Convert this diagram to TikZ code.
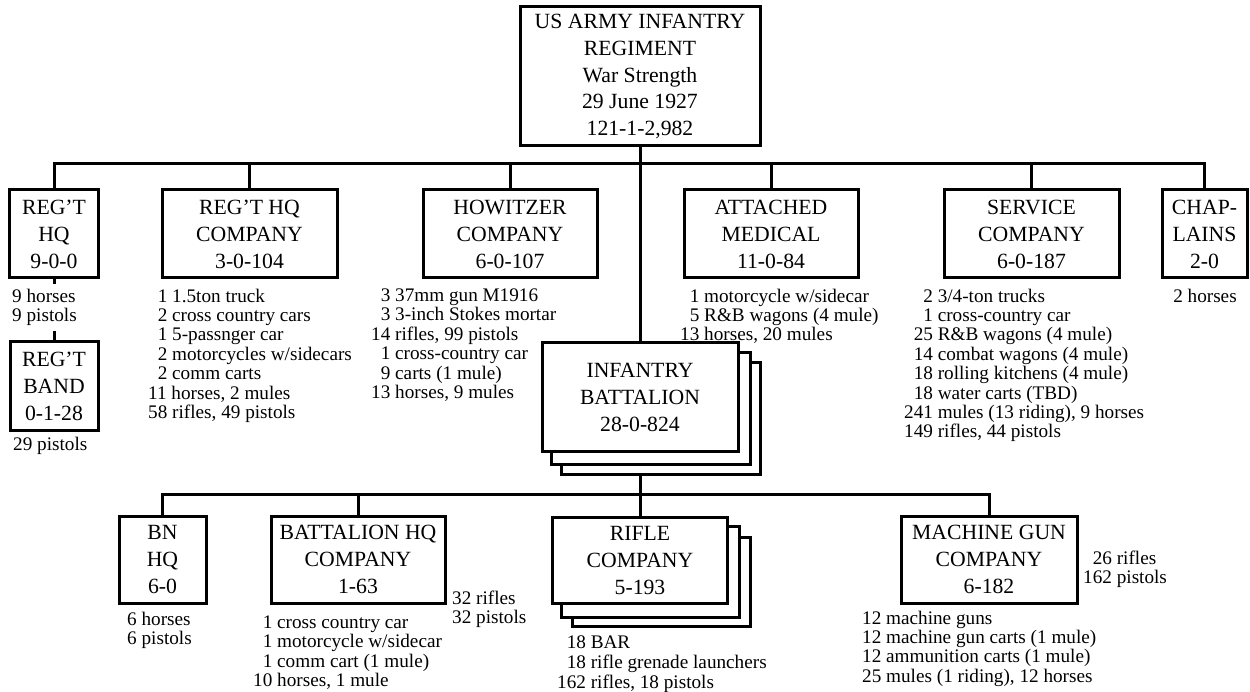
\documentclass[tikz,border=0pt]{standalone}
\usepackage{fontspec}
\setmainfont{Liberation Serif}
\usetikzlibrary{backgrounds,calc}
\begin{document}
\begin{tikzpicture}[x=1pt,y=-1pt,
  box/.style={draw, line width=3pt, fill=white, inner sep=0pt, align=center, font=\fontsize{21.7}{27}\selectfont},
  lst/.style={inner sep=0pt, align=left, anchor=north west, font=\fontsize{19.2}{19.4}\selectfont},
  conn/.style={line width=3pt},
  shadowbox/.style={draw, line width=3pt, fill=white}]
\useasboundingbox (0,0) rectangle (1250,692);

% ---- boxes ----
\node[box, minimum width=240pt, minimum height=139pt, font=\fontsize{21.7}{26.6}\selectfont] (top) at (640,76.5)
  {US ARMY INFANTRY\\REGIMENT\\War Strength\\29 June 1927\\121-1-2,982};

\node[box, minimum width=89pt, minimum height=88pt] (reghq) at (54,234) {REG’T\\HQ\\9-0-0};
\node[box, minimum width=175pt, minimum height=88pt] (reghqco) at (249.5,234) {REG’T HQ\\COMPANY\\3-0-104};
\node[box, minimum width=174pt, minimum height=88pt] (how) at (510,234) {HOWITZER\\COMPANY\\6-0-107};
\node[box, minimum width=174pt, minimum height=88pt] (med) at (771,234) {ATTACHED\\MEDICAL\\11-0-84};
\node[box, minimum width=175pt, minimum height=88pt] (svc) at (1031.5,234) {SERVICE\\COMPANY\\6-0-187};
\node[box, minimum width=85pt, minimum height=88pt] (chap) at (1204.5,234) {CHAP-\\LAINS\\2-0};

\node[box, minimum width=88pt, minimum height=88pt] (band) at (54,386) {REG’T\\BAND\\0-1-28};

\node[box, minimum width=196pt, minimum height=108pt] (bn) at (640,397) {INFANTRY\\BATTALION\\28-0-824};

\node[box, minimum width=87pt, minimum height=87pt] (bnhq) at (162.5,559.5) {BN\\HQ\\6-0};
\node[box, minimum width=174pt, minimum height=87pt] (bhqco) at (358,559.5) {BATTALION HQ\\COMPANY\\1-63};
\node[box, minimum width=175pt, minimum height=86pt] (rifle) at (640,560) {RIFLE\\COMPANY\\5-193};
\node[box, minimum width=176pt, minimum height=87pt] (mg) at (989,559.5) {MACHINE GUN\\COMPANY\\6-182};

% ---- lists ----
\node[lst, fill=white, inner ysep=5pt] (lreghq) at (12,283.5) {9 horses\\9 pistols};
\node[lst] (lband) at (13,436.5) {29 pistols};
\node[lst] (lreghqco) at (148,288.5) {\phantom{0}1 1.5ton truck\\
\phantom{0}2 cross country cars\\
\phantom{0}1 5-passnger car\\
\phantom{0}2 motorcycles w/sidecars\\
\phantom{0}2 comm carts\\
11 horses, 2 mules\\
58 rifles, 49 pistols};
\node[lst] (lhow) at (371,288.5) {\phantom{0}3 37mm gun M1916\\
\phantom{0}3 3-inch Stokes mortar\\
14 rifles, 99 pistols\\
\phantom{0}1 cross-country car\\
\phantom{0}9 carts (1 mule)\\
13 horses, 9 mules};
\node[lst] (lmed) at (680,288.5) {\phantom{0}1 motorcycle w/sidecar\\
\phantom{0}5 R\&B wagons (4 mule)\\
13 horses, 20 mules};
\node[lst] (lsvc) at (904,288.5) {\phantom{00}2 3/4-ton trucks\\
\phantom{00}1 cross-country car\\
\phantom{0}25 R\&B wagons (4 mule)\\
\phantom{0}14 combat wagons (4 mule)\\
\phantom{0}18 rolling kitchens (4 mule)\\
\phantom{0}18 water carts (TBD)\\
241 mules (13 riding), 9 horses\\
149 rifles, 44 pistols};
\node[lst, anchor=north] (lchap) at (1205,288.5) {2 horses};

\node[lst] (lbnhq) at (127,611.5) {6 horses\\6 pistols};
\node[lst] (lbhqco) at (253,615.5) {\phantom{0}1 cross country car\\
\phantom{0}1 motorcycle w/sidecar\\
\phantom{0}1 comm cart (1 mule)\\
10 horses, 1 mule};
\node[lst] (lbhqco2) at (452,590.5) {32 rifles\\32 pistols};
\node[lst, font=\fontsize{19.2}{20}\selectfont] (lrifle) at (557,635.5) {\phantom{0}18 BAR\\
\phantom{0}18 rifle grenade launchers\\
162 rifles, 18 pistols};
\node[lst] (lmg2) at (1083,550.5) {\phantom{0}26 rifles\\162 pistols};
\node[lst] (lmg) at (862,610.5) {12 machine guns\\
12 machine gun carts (1 mule)\\
12 ammunition carts (1 mule)\\
25 mules (1 riding), 12 horses};

% ---- connectors and stacked copies ----
\begin{scope}[on background layer]
\coordinate (bus1) at (640,164);
\coordinate (bus2) at (640,494);
\draw[conn] (top.south) -- (bn.north);
\foreach \n in {reghq,reghqco,how,med,svc,chap} \draw[conn] (\n.north) |- (bus1);
\draw[conn] (reghq.south) -- (band.north);
\draw[conn] (bn.south) -- (rifle.north);
\foreach \n in {bnhq,bhqco,mg} \draw[conn] (\n.north) |- (bus2);
\draw[shadowbox] ($(bn.north west)+(21,21)$) rectangle ($(bn.south east)+(21,22)$);
\draw[shadowbox] ($(bn.north west)+(10.5,11)$) rectangle ($(bn.south east)+(10.5,11.5)$);
\draw[shadowbox] ($(rifle.north west)+(21.5,21.5)$) rectangle ($(rifle.south east)+(21.5,22)$);
\draw[shadowbox] ($(rifle.north west)+(10.5,11)$) rectangle ($(rifle.south east)+(10.5,12.5)$);
\end{scope}
\end{tikzpicture}
\end{document}
